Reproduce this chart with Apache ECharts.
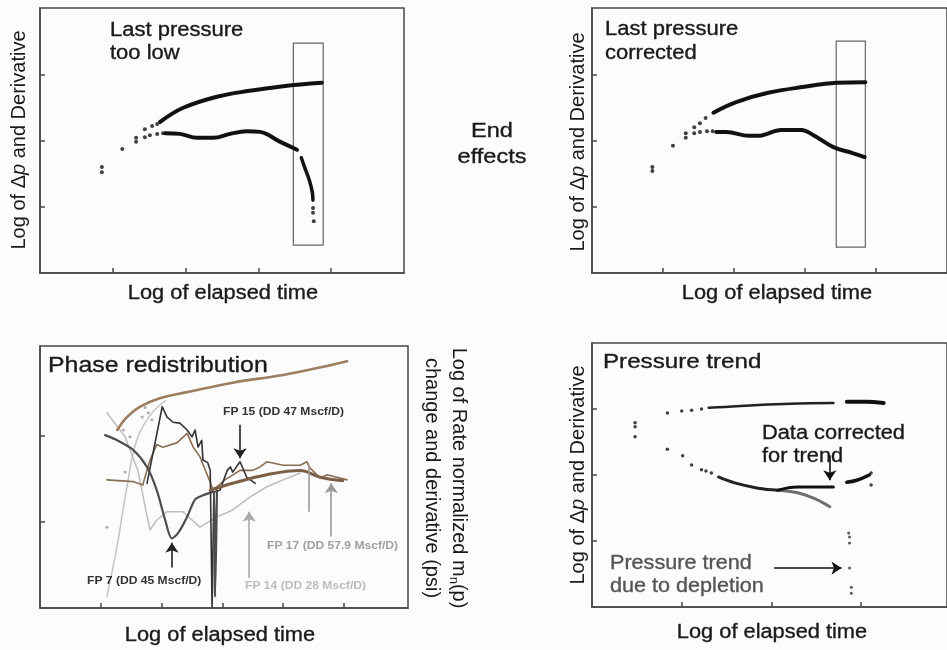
<!DOCTYPE html>
<html><head><meta charset="utf-8">
<script src="https://cdn.jsdelivr.net/npm/echarts@6/dist/echarts.min.js"></script>
<style>html,body{margin:0;padding:0;background:#fdfcfd;}#c{width:947px;height:650px;}</style>
</head><body><div id="c"></div>
<script>
// ---------- Panel 1: last pressure too low ----------
const p1XTicks = [1, 2, 3, 4];
const p1YTicks = [1, 2, 3];
const p1Sparse = [[0.85,1.60],[0.85,1.52],[1.13,1.87],[1.32,2.04],[1.32,1.98],[1.44,2.17],[1.44,2.05],[1.54,2.22],[1.61,2.25],[1.51,2.08],[1.61,2.10],[1.69,2.11]];
const p1Dp = [[1.65,2.28],[1.96,2.49],[2.43,2.66],[2.88,2.75],[3.34,2.82],[3.87,2.87]];
const p1Deriv = [[1.72,2.11],[1.92,2.10],[2.16,2.04],[2.38,2.04],[2.61,2.10],[2.84,2.14],[3.02,2.13],[3.30,1.98],[3.53,1.86]];
const p1Drop = [[3.59,1.74],[3.64,1.58],[3.70,1.40],[3.74,1.22],[3.75,1.10]];
const p1DropDots = [[3.75,0.98],[3.75,0.91],[3.76,0.78]];

// ---------- Panel 2: last pressure corrected ----------
const p2XTicks = [1, 2, 3, 4];
const p2YTicks = [1, 2, 3];
const p2Sparse = [[0.85,1.60],[0.85,1.54],[1.14,1.92],[1.32,2.11],[1.32,2.04],[1.44,2.20],[1.44,2.11],[1.52,2.26],[1.52,2.13],[1.60,2.34],[1.62,2.14],[1.70,2.14]];
const p2Dp = [[1.71,2.42],[2.03,2.58],[2.48,2.72],[2.99,2.81],[3.44,2.87],[3.85,2.88]];
const p2Deriv = [[1.75,2.13],[1.89,2.13],[2.21,2.07],[2.34,2.07],[2.67,2.16],[2.95,2.16],[3.12,2.08],[3.40,1.90],[3.67,1.81],[3.84,1.75]];

// ---------- Panel 3: phase redistribution ----------
const p3XTicks = [1, 2, 3, 4, 5];
const p3YTicks = [1, 2];
const p3Pressure = [[1.27,2.07],[1.43,2.22],[1.64,2.34],[1.97,2.44],[2.42,2.51],[3.17,2.62],[4.00,2.71],[4.56,2.79],[5.05,2.87]];
const p3Fp14Pressure = [[1.10,0.13],[1.27,0.73],[1.43,1.41],[1.59,1.95],[1.81,2.24],[2.06,2.41]];
const p3PressureDots = [[1.73,2.33],[1.78,2.27],[1.68,2.22],[1.84,2.19],[1.37,2.07],[1.48,1.99],[1.40,1.58],[1.10,0.94]];
const p3Fp7 = [[1.07,2.01],[1.27,1.95],[1.53,1.84],[1.76,1.64],[1.92,1.37],[2.06,1.02],[2.17,0.81],[2.27,0.87],[2.42,1.06],[2.55,1.26],[2.68,1.31],[2.85,1.35],[2.88,0.13],[2.91,1.37]];
const p3Fp15 = [[1.76,1.45],[2.01,2.34],[2.09,2.22],[2.19,2.16],[2.30,2.15],[2.42,2.07],[2.50,1.99],[2.55,2.07],[2.60,1.87],[2.66,1.95],[2.68,1.72],[2.76,1.69],[2.80,1.60],[2.83,0.01],[2.86,1.35],[2.96,1.37],[3.08,1.60],[3.13,1.64],[3.17,1.58],[3.29,1.70],[3.40,1.52],[3.54,1.45]];
const p3Thick = [[2.80,1.37],[3.17,1.45],[3.73,1.55],[4.28,1.60],[4.61,1.52],[4.98,1.48]];
const p3Fp17 = [[1.10,1.49],[1.53,1.47],[1.69,1.43],[1.81,1.72],[1.92,1.90],[2.02,1.87],[2.25,1.92],[2.42,2.03],[2.52,1.87],[2.63,1.76],[2.75,1.55],[2.85,1.37],[3.04,1.49],[3.29,1.60],[3.50,1.60],[3.62,1.64],[3.73,1.70],[4.00,1.66],[4.28,1.66],[4.39,1.70],[4.44,1.63],[4.61,1.51],[4.72,1.55],[5.05,1.49]];
const p3Fp14 = [[1.10,2.27],[1.40,1.99],[1.61,1.60],[1.74,1.14],[1.81,0.91],[1.92,1.02],[2.09,1.12],[2.35,1.12],[2.63,0.94],[2.91,1.06],[3.17,1.14],[3.45,1.29],[3.73,1.41],[4.00,1.49],[4.28,1.57]];

// ---------- Panel 4: pressure trend ----------
const p4XTicks = [1, 2, 3];
const p4YTicks = [1, 2, 3];
const p4Early = [[0.48,2.79],[0.48,2.73],[0.48,2.58]];
const p4UpperDots = [[0.84,2.94],[1.00,2.97],[1.11,2.98],[1.22,3.00]];
const p4Upper1 = [[1.30,3.02],[1.48,3.03],[1.85,3.06],[2.21,3.08],[2.69,3.09]];
const p4Upper2 = [[2.84,3.11],[3.05,3.11],[3.25,3.09]];
const p4LowerDots = [[0.84,2.39],[1.01,2.29],[1.11,2.15],[1.22,2.08],[1.27,2.06],[1.33,2.03]];
const p4Lower = [[1.41,1.97],[1.59,1.88],[1.85,1.80],[2.07,1.77]];
const p4Corrected = [[2.07,1.77],[2.29,1.82],[2.69,1.82]];
const p4Depleted = [[2.07,1.77],[2.29,1.73],[2.47,1.65],[2.65,1.52]];
const p4Corrected2 = [[2.84,1.89],[2.95,1.92],[3.09,2.00]];
const p4EndDots = [[3.11,2.03],[3.11,1.85]];
const p4TrendDots = [[2.86,1.12],[2.87,1.06],[2.87,0.97],[2.87,0.59],[2.89,0.30],[2.89,0.21]];

const FONT = '"Liberation Sans", Arial, Helvetica, sans-serif';
const INK = '#1a1a1a';
const FRAME = '#474747';
const Y_LABEL = '{a|Log of Δ}{i|p}{a| and Derivative}';
const R_LABEL1 = '{a|Log of Rate normalized m}{s|n}{a|(p)}';

function axis(g, max, ticks) {
  return {type:'value', gridIndex:g, min:0, max:max, interval:1,
    axisLine:{show:true, lineStyle:{color:FRAME, width:1.5}},
    axisTick:{show:true, inside:true, length:5, customValues:ticks, lineStyle:{color:FRAME, width:1.5}},
    axisLabel:{show:false}, splitLine:{show:false}};
}
function line(g, data, color, width, smooth, extra) {
  return Object.assign({type:'line', xAxisIndex:g, yAxisIndex:g, data:data, symbol:'none', showSymbol:false,
    smooth:smooth, lineStyle:{color:color, width:width, cap:'round', join:'round'}, silent:true, z:3}, extra||{});
}
function dots(g, data, color, size, extra) {
  return Object.assign({type:'scatter', xAxisIndex:g, yAxisIndex:g, data:data, symbol:'circle', symbolSize:size,
    itemStyle:{color:color}, silent:true, z:3}, extra||{});
}
function arrows(list) {
  return {silent:true, symbol:['none','arrow'], symbolSize:10, animation:false, label:{show:false},
    data: list.map(a => [
      {coord:a[0], lineStyle:{color:a[2], width:1.6, type:'solid'}, itemStyle:{color:a[2]}},
      Object.assign({coord:a[1], itemStyle:{color:a[2]}}, a[3] ? {symbol:'none'} : {})
    ])};
}
function box(coords) {
  return {silent:true, label:{show:false},
    itemStyle:{color:'rgba(0,0,0,0)', borderColor:'#666', borderWidth:1.2},
    data:[[{coord:coords[0]},{coord:coords[1]}]]};
}
function txt(x, y, text, o) {
  o = o || {};
  const col = o.color || INK;
  const st = {text:text, fontFamily:FONT, fontSize:o.size||20, fontWeight:o.weight||'normal',
    fill:col, align:o.align||'left', verticalAlign:'middle'};
  if (o.rich) { st.rich = o.rich; }
  else if (o.lw !== 0) { st.stroke = col; st.lineWidth = o.lw || 0.35; }
  return {type:'text', x:x, y:y, rotation:o.rot||0, scaleX:o.sx||1, scaleY:o.sy||1, silent:true, z:10, style:st};
}
const ylRich = {a:{fontFamily:FONT, fontSize:20, fill:INK},
                i:{fontFamily:FONT, fontSize:20, fontStyle:'italic', fill:INK}};
const rRich = {a:{fontFamily:FONT, fontSize:20, fill:INK, lineHeight:24},
               s:{fontFamily:FONT, fontSize:13, fill:INK, verticalAlign:'bottom', lineHeight:24}};

const chart = echarts.init(document.getElementById('c'), null, {renderer:'canvas'});
const gridStyle = {show:true, borderColor:FRAME, borderWidth:1.5, backgroundColor:'transparent'};

const option = {
  backgroundColor:'#fdfcfd',
  animation:false,
  grid:[
    Object.assign({left:40, top:8, width:364, height:265}, gridStyle),
    Object.assign({left:592, top:8, width:365, height:265}, gridStyle),
    Object.assign({left:40, top:346, width:368, height:262}, gridStyle),
    Object.assign({left:592, top:343, width:360, height:264}, gridStyle)
  ],
  xAxis:[axis(0,5,p1XTicks), axis(1,5,p2XTicks), axis(2,368/60.8,p3XTicks), axis(3,360/91,p4XTicks)],
  yAxis:[axis(0,4,p1YTicks), axis(1,4,p2YTicks), axis(2,262/86,p3YTicks), axis(3,4,p4YTicks)],
  series:[
    // panel 1
    dots(0, p1Sparse, '#111', 4),
    line(0, p1Dp, '#111', 4, 0.4, {markArea: box([[3.48,3.47],[3.89,0.42]])}),
    line(0, p1Deriv, '#111', 4, 0.4),
    line(0, p1Drop, '#111', 3.5, 0.4),
    dots(0, p1DropDots, '#111', 4),
    // panel 2
    dots(1, p2Sparse, '#111', 4),
    line(1, p2Dp, '#111', 4, 0.4, {markArea: box([[3.44,3.50],[3.85,0.39]])}),
    line(1, p2Deriv, '#111', 4, 0.4),
    // panel 3
    line(2, p3Fp14Pressure, '#c4c4c4', 1.5, 0.4),
    dots(2, p3PressureDots, '#999', 3),
    line(2, p3Fp14, '#bdbdbd', 1.5, false),
    line(2, p3Fp17, '#8a6e52', 1.6, false),
    line(2, p3Fp15, '#333', 1.6, false),
    line(2, p3Fp7, '#4d4d4d', 2.2, 0.3),
    line(2, p3Thick, '#7a6047', 3, 0.4),
    line(2, p3Pressure, '#9c7e60', 2.6, 0.4, {markLine: arrows([
      [[3.29,2.13],[3.29,1.74],'#222'],
      [[2.17,0.47],[2.17,0.76],'#222'],
      [[4.42,1.12],[4.42,1.66],'#999', true],
      [[4.79,0.83],[4.79,1.45],'#999'],
      [[3.44,0.35],[3.44,1.12],'#aaa']
    ])}),
    // panel 4
    dots(3, p4Early, '#111', 3.5),
    dots(3, p4UpperDots, '#111', 3.5),
    line(3, p4Upper1, '#222', 2.5, 0.4),
    line(3, p4Upper2, '#111', 4, 0.4),
    dots(3, p4LowerDots, '#111', 3.5),
    line(3, p4Depleted, '#6e6e6e', 3, 0.4),
    line(3, p4Lower, '#222', 3, 0.4),
    line(3, p4Corrected, '#111', 3, 0.4),
    line(3, p4Corrected2, '#111', 3.5, 0.4),
    dots(3, p4EndDots, '#111', 3.5),
    dots(3, p4TrendDots, '#333', 3, {markLine: arrows([
      [[2.65,2.30],[2.65,1.92],'#111'],
      [[2.03,0.59],[2.78,0.59],'#111']
    ])})
  ],
  graphic:[
    // panel 1 texts
    txt(110, 30, 'Last pressure', {size:20, sx:1.1}),
    txt(110, 53, 'too low', {size:20, sx:1.1}),
    txt(19, 140, Y_LABEL, {rot:Math.PI/2, align:'center', rich:ylRich}),
    txt(223, 293, 'Log of elapsed time', {size:20, sx:1.09, align:'center'}),
    // end effects
    txt(492, 131, 'End', {size:21, sx:1.12, align:'center'}),
    txt(492, 157, 'effects', {size:21, sx:1.12, align:'center'}),
    // panel 2
    txt(605, 29, 'Last pressure', {size:20, sx:1.1}),
    txt(605, 53, 'corrected', {size:20, sx:1.1}),
    txt(578, 142, Y_LABEL, {rot:Math.PI/2, align:'center', rich:ylRich}),
    txt(777, 293, 'Log of elapsed time', {size:20, sx:1.09, align:'center'}),
    // panel 3
    txt(48, 366, 'Phase redistribution', {size:22, sx:1.13}),
    txt(223, 412, 'FP 15 (DD 47 Mscf/D)', {size:11, weight:'bold', sx:1.1, color:'#333', lw:0}),
    txt(87, 581, 'FP 7 (DD 45 Mscf/D)', {size:11, weight:'bold', sx:1.1, color:'#333', lw:0}),
    txt(267, 546, 'FP 17 (DD 57.9 Mscf/D)', {size:11, weight:'bold', sx:1.1, color:'#a0a0a0', lw:0}),
    txt(245, 586, 'FP 14 (DD 28 Mscf/D)', {size:11, weight:'bold', sx:1.1, color:'#bcbcbc', lw:0}),
    txt(459, 478, R_LABEL1, {rot:-Math.PI/2, align:'center', rich:rRich}),
    txt(432, 478, 'change and derivative (psi)', {rot:-Math.PI/2, align:'center', size:20, lw:0}),
    txt(220, 635, 'Log of elapsed time', {size:20, sx:1.09, align:'center'}),
    // panel 4
    txt(603, 362, 'Pressure trend', {size:21, sx:1.15}),
    txt(762, 433, 'Data corrected', {size:20, sx:1.09}),
    txt(762, 456, 'for trend', {size:20, sx:1.09}),
    txt(610, 563, 'Pressure trend', {size:20, sx:1.08, color:'#555'}),
    txt(610, 586, 'due to depletion', {size:20, sx:1.08, color:'#555'}),
    txt(578, 475, Y_LABEL, {rot:Math.PI/2, align:'center', rich:ylRich}),
    txt(772, 632, 'Log of elapsed time', {size:20, sx:1.09, align:'center'})
  ]
};
chart.setOption(option);
</script>
</body></html>
